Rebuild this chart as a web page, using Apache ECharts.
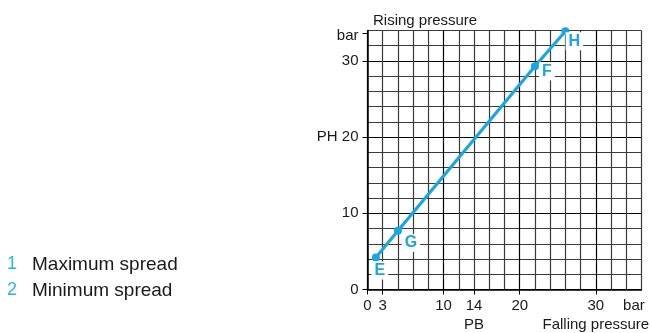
<!DOCTYPE html>
<html>
<head>
<meta charset="utf-8">
<script src="https://cdn.jsdelivr.net/npm/echarts@6/dist/echarts.min.js"></script>
<style>
  html, body { margin: 0; padding: 0; background: #fff; }
  #chart { width: 651px; height: 333px; }
</style>
</head>
<body>
<div id="chart"></div>
<script>
// switching points on the curve
const pointNames = ['E', 'G', 'F', 'H']
const fallingPB = [1.1, 4.0, 22.0, 26.0]
const risingPH = [4.2, 7.7, 29.3, 33.9]

// axis labels and ticks
const xLabelValues = [0, 2, 10, 14, 20, 30, 35]
const xLabelTexts = ['0', '3', '10', '14', '20', '30', 'bar']
const xNameValues = [14, 30]
const xNameTexts = ['PB', 'Falling pressure']
const xTickValues = [0, 2, 10, 14, 20, 30]
const yLabelValues = [0, 10, 20, 30, 33.3]
const yLabelTexts = ['0', '10', 'PH 20', '30', 'bar']
const yTickValues = [0, 10, 20, 30, 33.6]

const legendNums = ['1', '2']
const legendTexts = ['Maximum spread', 'Minimum spread']

const blue = '#1aa6e3'
const ink = '#1a1a1a'
const font = '"Liberation Sans", Arial, sans-serif'
// label offsets (px) from each point, same order as pointNames
const labelShift = [[4, 13], [13, 12], [12, 5], [9, 10]]

const chart = echarts.init(document.getElementById('chart'))

const gridColors = ['#000', '#3a3a3a', '#3a3a3a', '#3a3a3a', '#3a3a3a']

function gridAxis(max) {
  return {
    type: 'value', min: 0, max: max, interval: 2,
    axisLine: { show: false }, axisTick: { show: false }, axisLabel: { show: false },
    splitLine: { show: true, lineStyle: { color: gridColors, width: 1.2 } }
  }
}

const seriesData = pointNames.map(function (n, i) {
  return {
    name: n,
    value: [fallingPB[i], risingPH[i]],
    label: { position: [4 + labelShift[i][0], 4 + labelShift[i][1]] }
  }
})

chart.setOption({
  animation: false,
  textStyle: { fontFamily: font },
  title: {
    text: 'Rising pressure',
    left: 368, top: 8,
    textStyle: { fontSize: 15, fontWeight: 'normal', color: ink, fontFamily: font }
  },
  grid: { left: 367.5, right: 9.5, top: 30.5, bottom: 43.5, outerBoundsMode: 'none' },
  xAxis: [
    Object.assign(gridAxis(36), { position: 'bottom' }),
    {
      type: 'value', min: 0, max: 36, position: 'bottom',
      splitLine: { show: false },
      axisLine: { show: true, lineStyle: { color: '#000', width: 1.5 } },
      axisTick: { show: true, length: 5, customValues: xTickValues, lineStyle: { color: '#000' } },
      axisLabel: {
        customValues: xLabelValues, hideOverlap: false,
        margin: 9, fontSize: 15, color: ink, fontFamily: font,
        formatter: function (v) { return xLabelTexts[xLabelValues.indexOf(v)] }
      }
    },
    {
      type: 'value', min: 0, max: 36, position: 'bottom',
      splitLine: { show: false }, axisLine: { show: false }, axisTick: { show: false },
      axisLabel: {
        customValues: xNameValues, hideOverlap: false,
        margin: 28, fontSize: 15, color: ink, fontFamily: font,
        formatter: function (v) { return xNameTexts[xNameValues.indexOf(v)] }
      }
    }
  ],
  yAxis: [
    Object.assign(gridAxis(34), { position: 'left' }),
    {
      type: 'value', min: 0, max: 34, position: 'left',
      splitLine: { show: false },
      axisLine: { show: true, lineStyle: { color: '#000', width: 1.5 } },
      axisTick: { show: true, length: 5, customValues: yTickValues, lineStyle: { color: '#000' } },
      axisLabel: {
        customValues: yLabelValues, hideOverlap: false,
        margin: 9, fontSize: 15, color: ink, fontFamily: font,
        formatter: function (v) { return yLabelTexts[yLabelValues.indexOf(v)] }
      }
    }
  ],
  graphic: legendNums.map(function (num, i) {
    return {
      type: 'text', left: 7, top: 255 + i * 26,
      style: {
        text: '{n|' + num + '}{t|' + legendTexts[i] + '}',
        rich: {
          n: { fill: '#29b4ee', fontSize: 18, width: 25, fontFamily: font },
          t: { fill: ink, fontSize: 19, fontFamily: font }
        }
      }
    }
  }),
  series: [{
    type: 'line',
    xAxisIndex: 1, yAxisIndex: 1,
    data: seriesData,
    symbol: 'circle', symbolSize: 8,
    itemStyle: { color: blue },
    lineStyle: { color: blue, width: 3.2 },
    label: {
      show: true, formatter: '{b}',
      align: 'center', verticalAlign: 'middle',
      color: blue, fontWeight: 'bold', fontSize: 16, fontFamily: font,
      backgroundColor: '#fff', padding: [1, 3]
    }
  }]
})
</script>
</body>
</html>
